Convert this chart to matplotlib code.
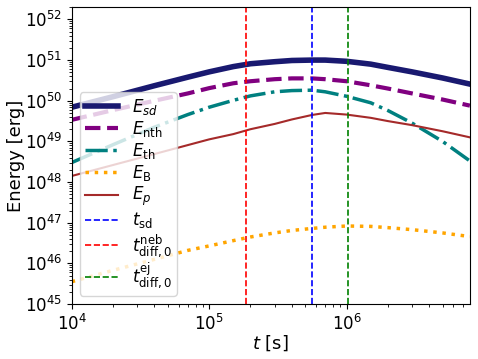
import numpy as np
import matplotlib
matplotlib.use("Agg")
import matplotlib.pyplot as plt

# time grid [s]
t = [1e4, 2e4, 4e4, 7e4, 1e5, 1.5e5, 2e5, 3e5, 4e5, 5.6e5, 7e5,
     1e6, 1.5e6, 2e6, 3e6, 5e6, 7.9e6]

# log10 of energies [erg]
log_E_sd = [49.84, 50.10, 50.37, 50.58, 50.71, 50.84, 50.91, 50.96, 50.99,
            51.00, 51.00, 50.97, 50.90, 50.82, 50.71, 50.56, 50.41]
log_E_nth = [49.53, 49.77, 50.00, 50.18, 50.31, 50.43, 50.48, 50.53, 50.55,
             50.55, 50.53, 50.48, 50.38, 50.30, 50.18, 50.03, 49.88]
log_E_th = [48.48, 48.92, 49.35, 49.66, 49.84, 50.01, 50.12, 50.22, 50.25,
            50.26, 50.22, 50.11, 49.95, 49.76, 49.45, 49.00, 48.52]
log_E_B = [45.55, 45.83, 46.10, 46.32, 46.43, 46.56, 46.65, 46.75, 46.81,
           46.86, 46.89, 46.92, 46.91, 46.88, 46.83, 46.75, 46.66]
log_E_p = [48.15, 48.42, 48.69, 48.91, 49.05, 49.18, 49.30, 49.43, 49.54,
           49.65, 49.70, 49.66, 49.58, 49.50, 49.40, 49.25, 49.10]

# characteristic times [s]
t_sd = 5.6e5
t_diff_neb = 1.87e5
t_diff_ej = 1.02e6

fig, ax = plt.subplots(figsize=(4.78, 3.59), dpi=100)
fig.subplots_adjust(left=0.150, right=0.983, top=0.980, bottom=0.153)

ax.plot(t, 10**np.array(log_E_sd), color='midnightblue', lw=4, label=r'$E_{sd}$')
ax.plot(t, 10**np.array(log_E_nth), color='purple', lw=3, ls='--', label=r'$E_{\rm nth}$')
ax.plot(t, 10**np.array(log_E_th), color='teal', lw=2.5, ls='-.', label=r'$E_{\rm th}$')
ax.plot(t, 10**np.array(log_E_B), color='orange', lw=2.5, ls=':', label=r'$E_{\rm B}$')
ax.plot(t, 10**np.array(log_E_p), color='brown', lw=1.5, label=r'$E_p$')

ax.axvline(t_sd, color='blue', ls='--', lw=1.2, label=r'$t_{\rm sd}$')
ax.axvline(t_diff_neb, color='red', ls='--', lw=1.2, label=r'$t_{\rm diff,0}^{\rm neb}$')
ax.axvline(t_diff_ej, color='green', ls='--', lw=1.2, label=r'$t_{\rm diff,0}^{\rm ej}$')

ax.set_xscale('log')
ax.set_yscale('log')
ax.set_xlim(1e4, 7.9e6)
ax.set_ylim(1e45, 2e52)
ax.set_xlabel(r'$t$ [s]', fontsize=13, labelpad=0)
ax.set_ylabel('Energy [erg]', fontsize=13, labelpad=0)
ax.tick_params(labelsize=12)
ax.legend(loc='lower left', fontsize=12, labelspacing=0.12, borderpad=0.3)

fig.savefig('out.png', dpi=100)
